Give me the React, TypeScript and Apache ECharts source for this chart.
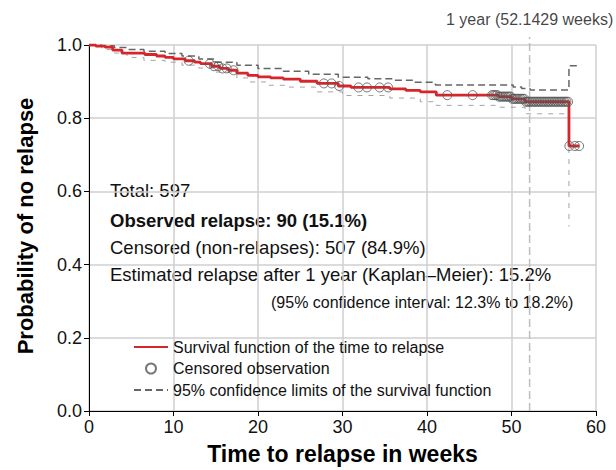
import React, { useEffect, useRef } from "react";
import * as echarts from "echarts";

const FONT = "'Liberation Sans', Arial, sans-serif";

const YEAR_WEEKS = 52.1429;
const YEAR_LABEL = "1 year (52.1429 weeks)";

// Kaplan–Meier survival estimate (step function, value after each time)
const kmTimes = [0, 0.8, 1.9, 2.8, 3.9, 6.6, 8.0, 9.0, 10.0, 11.4, 12.5, 13.2, 14.5, 15.5, 16.5, 17.5, 18.8, 20.0, 21.5, 23.0, 25.0, 27.0, 29.5, 31.0, 35.6, 37.5, 39.2, 41.1, 48.5, 50.0, 51.6, 56.8, 58.0];
const kmSurv = [1.0, 0.997, 0.994, 0.986, 0.978, 0.974, 0.97, 0.966, 0.962, 0.957, 0.953, 0.949, 0.942, 0.936, 0.931, 0.923, 0.917, 0.913, 0.91, 0.907, 0.901, 0.895, 0.888, 0.884, 0.88, 0.876, 0.872, 0.863, 0.859, 0.853, 0.845, 0.724, 0.724];

// 95% confidence limits
const upperTimes = [0, 1.5, 3.0, 4.5, 6.5, 9.0, 11.0, 13.0, 15.0, 17.5, 20.0, 23.0, 26.0, 29.5, 33.0, 36.0, 38.5, 41.0, 50.2, 51.2, 52.2, 56.8, 58.0];
const upperVals = [1.0, 0.998, 0.993, 0.988, 0.983, 0.977, 0.97, 0.962, 0.953, 0.945, 0.936, 0.928, 0.92, 0.912, 0.908, 0.904, 0.898, 0.891, 0.885, 0.881, 0.877, 0.943, 0.943];
const lowerTimes = [0, 1.5, 3.0, 4.5, 6.5, 9.0, 11.0, 13.0, 15.0, 17.5, 19.0, 21.0, 23.5, 27.0, 30.0, 35.6, 39.2, 41.1, 48.5, 51.6, 56.8];
const lowerVals = [1.0, 0.988, 0.978, 0.966, 0.958, 0.953, 0.945, 0.937, 0.926, 0.91, 0.899, 0.89, 0.885, 0.872, 0.862, 0.855, 0.845, 0.835, 0.83, 0.812, 0.504];

// Censored observation times
const censorTimes = [11.8, 14.3, 14.8, 15.3, 15.8, 16.3, 17.1, 27.8, 28.7, 29.6, 31.9, 32.9, 34.4, 35.4, 42.4, 45.4,
  47.7, 47.9, 48.1, 48.3, 48.5, 48.7, 48.9, 49.1, 49.3, 49.5, 49.7, 49.9, 50.1, 50.3, 50.5, 50.7, 50.9, 51.1, 51.3, 51.5,
  51.7, 51.9, 52.1, 52.3, 52.5, 52.7, 52.9, 53.1, 53.3, 53.5, 53.7, 53.9, 54.1, 54.3, 54.5, 54.7, 54.9, 55.1, 55.3, 55.5,
  55.7, 55.9, 56.1, 56.3, 56.5, 56.7, 56.85, 57.5, 58.0];

const NAME_SURV = "Survival function of the time to relapse";
const NAME_CENS = "Censored observation";
const NAME_CI = "95% confidence limits of the survival function";

const infoLines = [
  { text: "Total: 597", bold: false },
  { text: "Observed relapse: 90 (15.1%)", bold: true },
  { text: "Censored (non-relapses): 507 (84.9%)", bold: false },
  { text: "Estimated relapse after 1 year (Kaplan\u2013Meier): 15.2%", bold: false },
];
const infoTops = [181, 211, 238, 265];
const ciText = "(95% confidence interval: 12.3% to 18.2%)";

function survAt(t: number): number {
  let s = kmSurv[0];
  for (let i = 0; i < kmTimes.length; i++) if (kmTimes[i] <= t) s = kmSurv[i];
  return s;
}

export default function App() {
  const ref = useRef<HTMLDivElement>(null);
  useEffect(() => {
    document.body.style.margin = "0";
    if (!ref.current) return;
    const chart = echarts.init(ref.current, null, { renderer: "svg" });
    const zip = (a: number[], b: number[]) => a.map((v, i) => [v, b[i]]);
    const textEls: any[] = infoLines.map((l, i) => ({
      type: "text",
      left: 110,
      top: infoTops[i],
      style: {
        text: l.text,
        font: `${l.bold ? "bold " : ""}18.5px ${FONT}`,
        fill: "#111",
      },
    }));
    textEls.push({
      type: "text",
      left: 271,
      top: 294,
      style: { text: ciText, font: `16px ${FONT}`, fill: "#111" },
    });
    textEls.push({
      type: "text",
      x: 25,
      y: 226,
      rotation: Math.PI / 2,
      style: {
        text: "Probability of no relapse",
        font: `bold 22px ${FONT}`,
        fill: "#000",
        align: "center",
        verticalAlign: "middle",
        textAlign: "center",
        textVerticalAlign: "middle",
      },
    });
    const noSym = { opacity: 0, color: "rgba(0,0,0,0)", borderWidth: 0 };
    chart.setOption({
      animation: false,
      grid: { left: 89, right: 20, top: 45, bottom: 59, containLabel: false },
      xAxis: {
        type: "value",
        min: 0,
        max: 60,
        interval: 10,
        name: "Time to relapse in weeks",
        nameLocation: "middle",
        nameGap: 31,
        nameTextStyle: { fontFamily: FONT, fontSize: 23, fontWeight: "bold", color: "#000" },
        axisLine: { show: true, onZero: false, lineStyle: { color: "#000", width: 1 } },
        axisTick: { show: true, length: 5, lineStyle: { color: "#000" } },
        axisLabel: { fontFamily: FONT, fontSize: 18, color: "#111", margin: 7 },
        splitLine: { show: true, lineStyle: { color: "#cfcfcf", width: 1.5 } },
      },
      yAxis: {
        type: "value",
        min: 0,
        max: 1,
        interval: 0.2,
        axisLine: { show: true, lineStyle: { color: "#000", width: 1 } },
        axisTick: { show: true, length: 5, lineStyle: { color: "#000" } },
        axisLabel: { fontFamily: FONT, fontSize: 18, color: "#111", margin: 7, formatter: (v: number) => v.toFixed(1) },
        splitLine: { show: true, lineStyle: { color: "#cfcfcf", width: 1.5 } },
      },
      legend: {
        orient: "vertical",
        left: 128,
        top: 334,
        itemWidth: 34,
        itemHeight: 10,
        itemGap: 5.5,
        textStyle: { fontFamily: FONT, fontSize: 16, color: "#111" },
        data: [
          { name: NAME_SURV, itemStyle: noSym },
          { name: NAME_CENS },
          { name: NAME_CI, itemStyle: noSym },
        ],
      },
      graphic: textEls,
      series: [
        {
          name: "1 year",
          type: "line",
          data: [[YEAR_WEEKS, 0], [YEAR_WEEKS, 1.022]],
          symbol: "none",
          clip: false,
          lineStyle: { color: "#bdbdbd", width: 1.5, type: [8, 4] },
          z: 1,
          silent: true,
        },
        {
          name: "yearLabel",
          type: "scatter",
          data: [[YEAR_WEEKS, 1.022]],
          symbolSize: 0,
          clip: false,
          label: {
            show: true,
            position: "top",
            distance: 9,
            formatter: YEAR_LABEL,
            fontFamily: FONT,
            fontSize: 16,
            color: "#111",
          },
        },
        {
          name: NAME_CI,
          type: "line",
          step: "end",
          data: zip(upperTimes, upperVals),
          symbol: "none",
          lineStyle: { color: "#666", width: 1.5, type: [7, 4] },
          z: 2,
        },
        {
          name: NAME_CI,
          type: "line",
          step: "end",
          data: zip(lowerTimes, lowerVals),
          symbol: "none",
          lineStyle: { color: "#999", width: 0.9, type: [5, 6] },
          z: 2,
        },
        {
          name: NAME_SURV,
          type: "line",
          step: "end",
          data: zip(kmTimes, kmSurv),
          symbol: "none",
          lineStyle: { color: "#d7262b", width: 2.8 },
          z: 3,
        },
        {
          name: NAME_CENS,
          type: "scatter",
          data: censorTimes.map((t) => [t, survAt(t)]),
          symbol: "circle",
          symbolSize: 9,
          itemStyle: { color: "rgba(0,0,0,0)", borderColor: "#555", borderWidth: 1 },
          z: 4,
        },
      ],
    });
    return () => chart.dispose();
  }, []);
  return <div ref={ref} style={{ width: 616, height: 470 }} />;
}
